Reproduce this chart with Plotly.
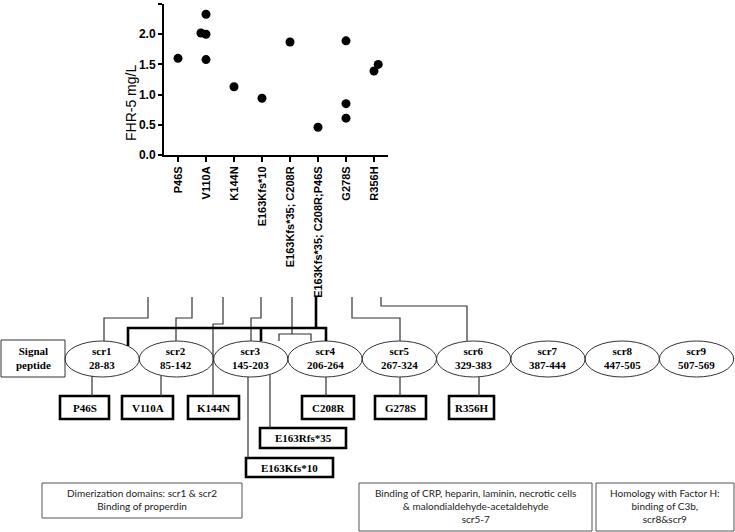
import plotly.graph_objects as go

W, H = 735, 532

# FHR-5 serum levels per variant
variants = ["P46S", "V110A", "K144N", "E163Kfs*10", "E163Kfs*35; C208R",
            "E163Kfs*35; C208R;P46S", "G278S", "R356H"]
point_variant = ["P46S", "V110A", "V110A", "V110A", "V110A", "K144N", "E163Kfs*10",
                 "E163Kfs*35; C208R", "E163Kfs*35; C208R;P46S",
                 "G278S", "G278S", "G278S", "R356H", "R356H"]
fhr5_mg_l = [1.60, 2.02, 2.00, 2.33, 1.58, 1.13, 0.94, 1.87, 0.46, 1.89, 0.85, 0.61, 1.39, 1.50]
jitter = [0, -0.18, 0, 0, 0, 0, 0, 0, 0, 0, 0, 0, 0, 0.15]

# protein domain diagram
domains = ["scr1", "scr2", "scr3", "scr4", "scr5", "scr6", "scr7", "scr8", "scr9"]
domain_span = ["28-83", "85-142", "145-203", "206-264", "267-324", "329-383",
               "387-444", "447-505", "507-569"]
mutations = ["P46S", "V110A", "K144N", "C208R", "G278S", "R356H", "E163Rfs*35", "E163Kfs*10"]
functions = ["Dimerization domains: scr1 & scr2<br>Binding of properdin",
             "Binding of CRP, heparin, laminin, necrotic cells<br>& malondialdehyde-acetaldehyde<br>scr5-7",
             "Homology with Factor H:<br>binding of C3b,<br>scr8&scr9"]


def X(x):
    return x / W


def Y(y):
    return 1 - y / H


def path(pts):
    return "M " + " L ".join(f"{X(a):.5f},{Y(b):.5f}" for a, b in pts)


xpos = [variants.index(v) + j for v, j in zip(point_variant, jitter)]

fig = go.Figure()
fig.add_trace(go.Scatter(x=xpos, y=fhr5_mg_l, mode="markers",
                         marker=dict(color="black", size=9), showlegend=False))

shapes = []
ann = []

thin = dict(color="#333333", width=1.2)
thick = dict(color="black", width=2.6)
serif = dict(family="Liberation Serif, Times New Roman, serif", size=11, color="black")

# signal peptide
shapes.append(dict(type="rect", x0=X(1), x1=X(65), y0=Y(377), y1=Y(340), line=dict(color="#333333", width=1)))
ann.append(dict(x=X(33), y=Y(358), text="<b>Signal<br>peptide</b>", font=serif))

# domains
ew = 74.3
for i, (d, s) in enumerate(zip(domains, domain_span)):
    x0 = 65 + ew * i
    shapes.append(dict(type="circle", x0=X(x0), x1=X(x0 + ew), y0=Y(377), y1=Y(341),
                       line=dict(color="#333333", width=1)))
    ann.append(dict(x=X(x0 + ew / 2), y=Y(358), text=f"<b>{d}<br>{s}</b>", font=serif))

# mutation boxes
mut_box = {"P46S": (60, 109, 396, 419), "V110A": (122, 173, 396, 419),
           "K144N": (188, 239, 396, 419), "C208R": (302, 354, 396, 419),
           "G278S": (375, 426, 396, 419), "R356H": (449, 494, 396, 419),
           "E163Rfs*35": (260, 346, 428, 448), "E163Kfs*10": (246, 333, 458, 477)}
for m in mutations:
    a, b, c, d = mut_box[m]
    shapes.append(dict(type="rect", x0=X(a), x1=X(b), y0=Y(d), y1=Y(c), line=thick))
    ann.append(dict(x=X((a + b) / 2), y=Y((c + d) / 2), text=f"<b>{m}</b>", font=serif))

# lower connectors
lower = [[(92, 376), (92, 396)], [(161, 376), (161, 396)], [(326, 377), (326, 396)],
         [(400, 377), (400, 396)], [(479, 377), (479, 396)],
         [(270, 375), (270, 428)], [(248, 377), (248, 458)],
         [(223, 297), (223, 324), (213, 324), (213, 396)]]
for p in lower:
    shapes.append(dict(type="path", path=path(p), line=thin))

# upper connectors
upper = [[(148, 297), (148, 318), (104, 318), (104, 341)],
         [(192, 297), (192, 318), (176, 318), (176, 341)],
         [(261, 297), (261, 318), (251, 318), (251, 341)],
         [(292, 297), (292, 334)],
         [(279, 341), (279, 334), (311, 334), (311, 341)],
         [(352, 297), (352, 318), (400, 318), (400, 341)],
         [(381, 297), (381, 306), (467, 306), (467, 341)]]
for p in upper:
    shapes.append(dict(type="path", path=path(p), line=thin))

bold_paths = [[(316, 297), (316, 328)], [(128, 346), (128, 328), (326, 328), (326, 341)],
              [(261, 328), (261, 341)]]
for p in bold_paths:
    shapes.append(dict(type="path", path=path(p), line=thick))

# function boxes
fbox = [(42, 242, 483, 518), (359, 592, 483, 531), (596, 734, 483, 531)]
for t, (a, b, c, d) in zip(functions, fbox):
    shapes.append(dict(type="rect", x0=X(a), x1=X(b), y0=Y(d), y1=Y(c),
                       line=dict(color="#555555", width=1)))
    ann.append(dict(x=X((a + b) / 2), y=Y((c + d) / 2 - 1), text=t,
                    font=dict(family="Lato, sans-serif", size=10, color="#222222")))

# y axis title
ann.append(dict(x=X(131), y=Y(103), text="FHR-5 mg/L", textangle=-90,
                font=dict(family="Liberation Sans, Arial, sans-serif", size=14, color="black")))

for a in ann:
    a.update(xref="paper", yref="paper", showarrow=False, xanchor="center", yanchor="middle")
for s in shapes:
    s.update(xref="paper", yref="paper", layer="above")

fig.update_layout(
    width=W, height=H, margin=dict(l=0, r=0, t=0, b=0),
    paper_bgcolor="white", plot_bgcolor="white",
    shapes=shapes, annotations=ann,
    xaxis=dict(domain=[X(164), X(388)], range=[-0.5, 7.5], tickvals=list(range(len(variants))),
               ticktext=variants, tickangle=-90, showgrid=False, zeroline=False,
               showline=True, linecolor="black", linewidth=2, ticks="outside", ticklen=5,
               tickwidth=1.5, tickcolor="black", automargin=False,
               tickfont=dict(family="Liberation Sans, Arial, sans-serif", size=11, color="black",
                             weight="bold")),
    yaxis=dict(domain=[Y(155), Y(4)], range=[0, 2.5], tickvals=[0, 0.5, 1, 1.5, 2, 2.5],
               ticktext=["0.0", "0.5", "1.0", "1.5", "2.0", "2.5"],
               showgrid=False, zeroline=False, showline=True, linecolor="black", linewidth=2,
               ticks="outside", ticklen=4, tickwidth=1.5, tickcolor="black", automargin=False,
               tickfont=dict(family="Liberation Sans, Arial, sans-serif", size=12, color="black",
                             weight="bold")),
)

fig.write_html("out.html", config={"displayModeBar": False},
               post_script="document.body.style.margin='0';")
